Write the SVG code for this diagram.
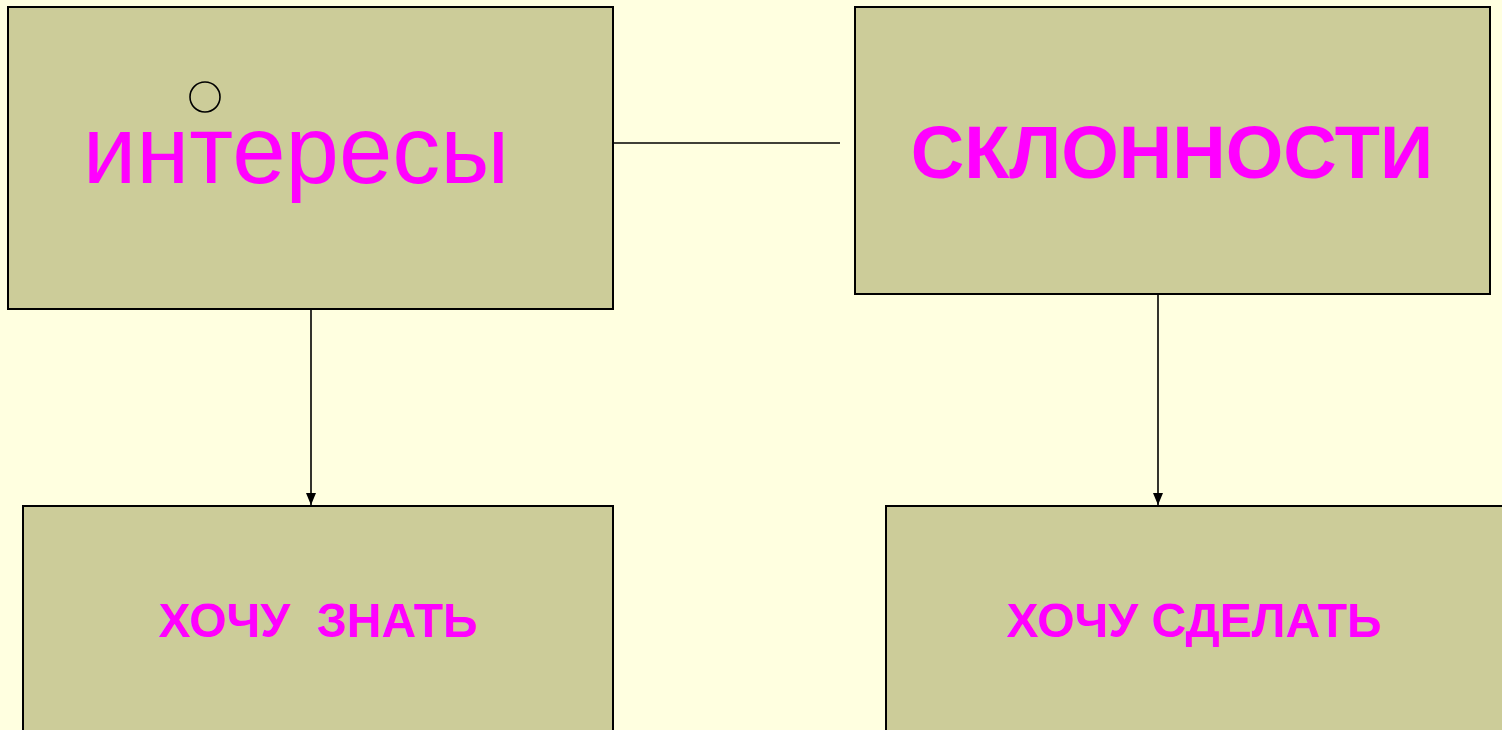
<svg xmlns="http://www.w3.org/2000/svg" width="1502" height="730" viewBox="0 0 1502 730">
<defs>
<style>
.box{fill:#CCCC99;stroke:#000;stroke-width:2}
.t{fill:#FF00FF;font-family:"Liberation Sans",Arial,sans-serif;text-anchor:middle}
.b{font-weight:bold}
.c{stroke:#000;stroke-width:1.6;fill:none}
</style>
<marker id="ah" markerWidth="10" markerHeight="12" refX="5" refY="12" orient="auto-start-reverse" markerUnits="userSpaceOnUse" viewBox="0 0 10 12">
<path d="M0,0 L10,0 L5,12 Z" fill="#000" transform="rotate(0)"/>
</marker>
</defs>
<rect width="1502" height="730" fill="#FFFFE0"/>
<g id="connectors">
<line class="c" x1="614" y1="143" x2="840" y2="143"/>
<line class="c" x1="311" y1="309" x2="311" y2="505"/>
<path d="M306,493 L316,493 L311,505 Z" fill="#000"/>
<line class="c" x1="1158" y1="294" x2="1158" y2="505"/>
<path d="M1153,493 L1163,493 L1158,505 Z" fill="#000"/>
</g>
<g id="node-interesy">
<rect class="box" x="8" y="7" width="605" height="302"/>
<ellipse cx="205" cy="97" rx="15" ry="15" fill="none" stroke="#000" stroke-width="1.6"/>
<text class="t" x="296" y="183" font-size="96">интересы</text>
</g>
<g id="node-sklonnosti">
<rect class="box" x="855" y="7" width="635" height="287"/>
<text class="t b" x="1172" y="178" font-size="74">СКЛОННОСТИ</text>
</g>
<g id="node-znat">
<rect class="box" x="23" y="506" width="590" height="240"/>
<text class="t b" x="318" y="637" font-size="48" xml:space="preserve">ХОЧУ  ЗНАТЬ</text>
</g>
<g id="node-sdelat">
<rect class="box" x="886" y="506" width="630" height="240"/>
<text class="t b" x="1194" y="637" font-size="48">ХОЧУ СДЕЛАТЬ</text>
</g>
</svg>
